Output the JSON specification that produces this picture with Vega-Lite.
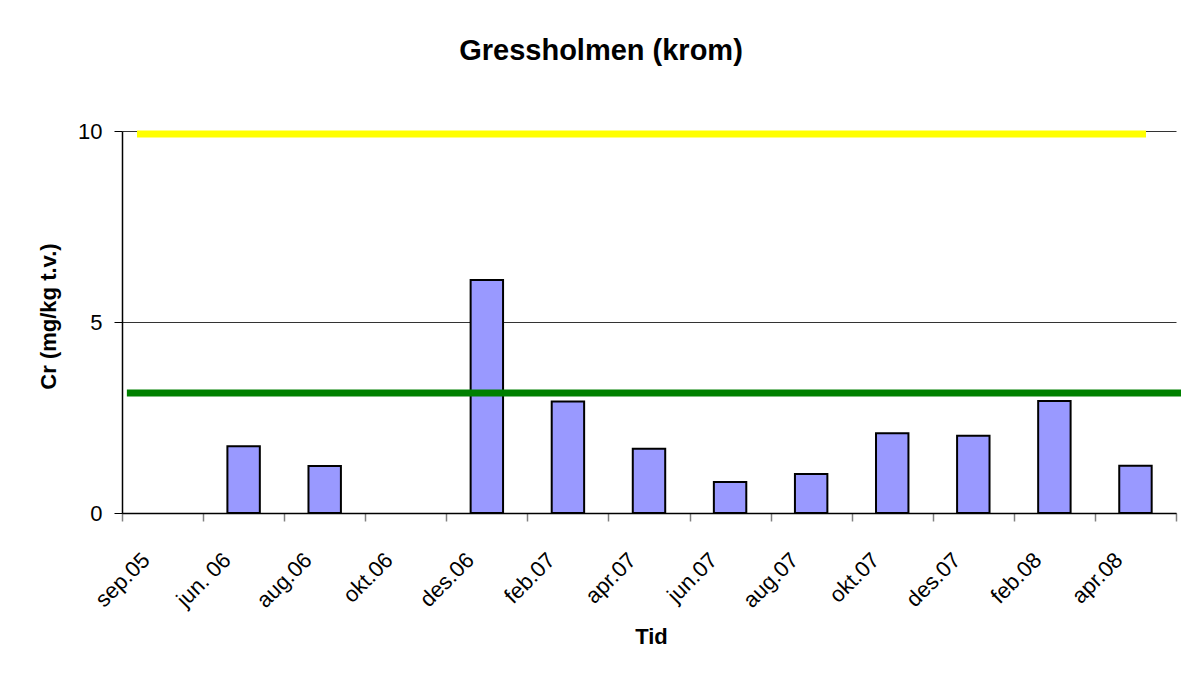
{
  "$schema": "https://vega.github.io/schema/vega-lite/v6.json",
  "width": 1054,
  "height": 382,
  "autosize": "none",
  "padding": {"left": 122, "top": 131, "right": 5, "bottom": 162},
  "background": "white",
  "config": {
    "view": {"stroke": null},
    "font": "Liberation Sans"
  },
  "title": {
    "text": "Gressholmen (krom)",
    "font": "Liberation Sans",
    "fontSize": 29,
    "fontWeight": "bold",
    "color": "black",
    "anchor": "middle",
    "baseline": "alphabetic",
    "offset": 31,
    "dx": -48
  },
  "datasets": {
    "bars": [
      {"Tid": "sep.05", "Cr": null},
      {"Tid": "jun. 06", "Cr": 1.75},
      {"Tid": "aug.06", "Cr": 1.23},
      {"Tid": "okt.06", "Cr": null},
      {"Tid": "des.06", "Cr": 6.1},
      {"Tid": "feb.07", "Cr": 2.92},
      {"Tid": "apr.07", "Cr": 1.68},
      {"Tid": "jun.07", "Cr": 0.81},
      {"Tid": "aug.07", "Cr": 1.02},
      {"Tid": "okt.07", "Cr": 2.09},
      {"Tid": "des.07", "Cr": 2.02},
      {"Tid": "feb.08", "Cr": 2.93},
      {"Tid": "apr.08", "Cr": 1.24}
    ],
    "lines": [
      {"line": "øvre", "start": 0.185, "end": 12.63, "value": 9.92},
      {"line": "nedre", "start": 0.06, "end": 13.07, "value": 3.14}
    ]
  },
  "layer": [
    {
      "data": {"name": "bars"},
      "mark": {"type": "bar", "color": "#9999FF", "stroke": "black", "strokeWidth": 2, "width": {"band": 0.4}},
      "encoding": {
        "x": {
          "field": "Tid",
          "type": "nominal",
          "sort": null,
          "scale": {
            "domain": ["sep.05", "jun. 06", "aug.06", "okt.06", "des.06", "feb.07", "apr.07", "jun.07", "aug.07", "okt.07", "des.07", "feb.08", "apr.08"],
            "paddingInner": 0,
            "paddingOuter": 0
          },
          "axis": {
            "title": "Tid",
            "titleFont": "Liberation Sans",
            "titleFontSize": 22,
            "titleFontWeight": "bold",
            "titleColor": "black",
            "titleBaseline": "alphabetic",
            "titleX": 529,
            "titleY": 130,
            "labelAngle": -45,
            "labelAlign": "right",
            "labelBaseline": "alphabetic",
            "labelFont": "Liberation Sans",
            "labelFontSize": 22,
            "labelColor": "black",
            "labelPadding": 40,
            "labelOffset": -12,
            "labelOverlap": false,
            "tickBand": "extent",
            "tickSize": 8,
            "tickColor": "#808080",
            "tickWidth": 1.5,
            "domainColor": "black",
            "domainWidth": 1.5,
            "grid": false
          }
        },
        "y": {
          "field": "Cr",
          "type": "quantitative",
          "scale": {"domain": [0, 10], "nice": false},
          "axis": {
            "title": "Cr (mg/kg t.v.)",
            "titleFont": "Liberation Sans",
            "titleFontSize": 22,
            "titleFontWeight": "bold",
            "titleColor": "black",
            "titleAngle": -90,
            "titleBaseline": "alphabetic",
            "titleAlign": "center",
            "titleX": -67,
            "titleY": 185,
            "values": [0, 5, 10],
            "labelFont": "Liberation Sans",
            "labelFontSize": 22,
            "labelColor": "black",
            "labelPadding": 12,
            "tickSize": 8,
            "tickColor": "black",
            "domainColor": "black",
            "domainWidth": 1.5,
            "grid": true,
            "gridColor": "#333333",
            "gridWidth": 1
          }
        }
      }
    },
    {
      "data": {"name": "lines"},
      "mark": {"type": "rule", "strokeWidth": 7, "clip": false},
      "encoding": {
        "x": {"field": "start", "type": "quantitative", "scale": {"domain": [0, 13], "nice": false, "zero": false}, "axis": null},
        "x2": {"field": "end"},
        "y": {"field": "value", "type": "quantitative"},
        "color": {
          "field": "line",
          "type": "nominal",
          "scale": {"domain": ["øvre", "nedre"], "range": ["#FFFF00", "#008000"]},
          "legend": null
        }
      }
    }
  ],
  "resolve": {"scale": {"x": "independent"}}
}
